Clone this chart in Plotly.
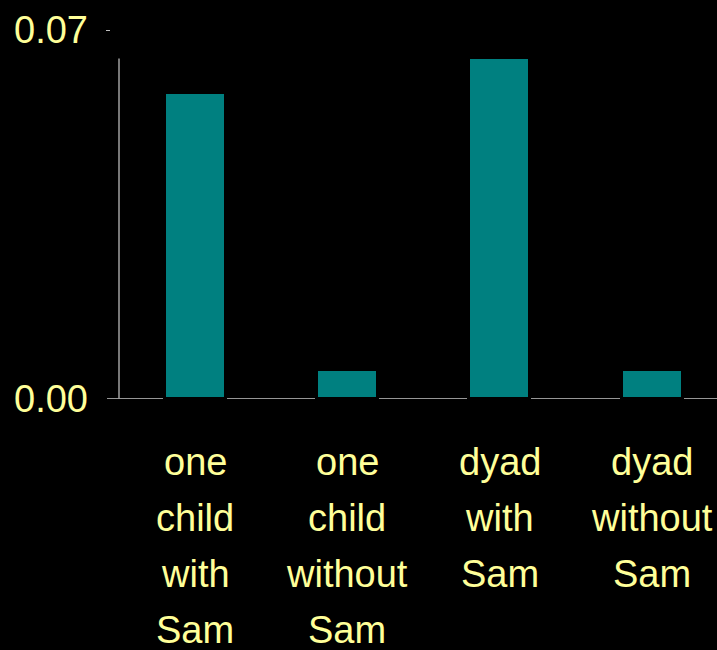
import plotly.graph_objects as go

# Category labels (one line per list entry) and bar heights
label_lines = [
    ["one", "child", "with", "Sam"],
    ["one", "child", "without", "Sam"],
    ["dyad", "with", "Sam"],
    ["dyad", "without", "Sam"],
]
values = [0.0580, 0.0055, 0.0646, 0.0055]
y_tick_vals = [0.0, 0.07]
y_tick_text = ["0.00", "0.07"]

TEXT_COLOR = "#FFFF99"
BAR_COLOR = "#008080"
FONT = "Liberation Sans, Arial, sans-serif"
FONT_SIZE = 38

W, H = 717, 650
M_L, M_R, M_T, M_B = 119, 0, 30, 251
plot_w = W - M_L - M_R
cat_px = 152.3  # pixel width of one category slot

x = list(range(len(values)))

fig = go.Figure(
    go.Bar(
        x=x,
        y=values,
        width=0.4,
        marker=dict(color=BAR_COLOR, line=dict(color="#000000", width=3)),
        hoverinfo="skip",
    )
)

# Baseline at zero, slightly extending left of the plot edge
fig.add_shape(
    type="line", xref="paper", yref="y",
    x0=-12 / plot_w, x1=1, y0=0, y1=0,
    line=dict(color="#C8C8C8", width=1.5), layer="below",
)
# Vertical axis line spanning the data range
fig.add_shape(
    type="line", xref="paper", yref="y",
    x0=0, x1=0, y0=0, y1=max(values),
    line=dict(color="#A0A0A0", width=1.5), layer="below",
)
# Small tick mark at the top value
fig.add_shape(
    type="line", xref="paper", yref="y",
    x0=-13 / plot_w, x1=-9 / plot_w, y0=max(y_tick_vals), y1=max(y_tick_vals),
    line=dict(color="#FFFFFF", width=1.5),
)

# Multi-line category labels, one annotation per line for wider spacing
for xi, lines in zip(x, label_lines):
    for i, word in enumerate(lines):
        fig.add_annotation(
            x=xi, y=0, xref="x", yref="y",
            text=word, showarrow=False,
            yanchor="middle", xanchor="center",
            yshift=-(63 + 56 * i),
            font=dict(family=FONT, size=FONT_SIZE, color=TEXT_COLOR),
        )

fig.update_layout(
    width=W, height=H,
    margin=dict(l=M_L, r=M_R, t=M_T, b=M_B),
    paper_bgcolor="#000000", plot_bgcolor="#000000",
    showlegend=False,
    bargap=0,
    xaxis=dict(
        range=[-0.5, -0.5 + plot_w / cat_px],
        showticklabels=False, showgrid=False, zeroline=False,
        showline=False, ticks="", fixedrange=True,
    ),
    yaxis=dict(
        range=[0, 0.07],
        tickvals=y_tick_vals, ticktext=y_tick_text,
        tickfont=dict(family=FONT, size=FONT_SIZE, color=TEXT_COLOR),
        ticklabelstandoff=30,
        showgrid=False, zeroline=False, showline=False, ticks="",
        fixedrange=True,
    ),
)

fig.write_html("out.html")
